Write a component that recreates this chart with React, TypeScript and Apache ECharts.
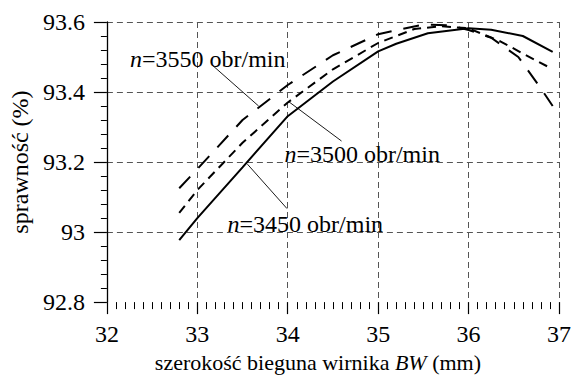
import React, { useEffect, useRef } from "react";
import * as echarts from "echarts";

// ---- data ----
const xTickMin = 32;
const xTickMax = 37;
const yTickMin = 92.8;
const yTickMax = 93.6;

const x3450 = [32.8, 33.0, 33.5, 34.0, 34.5, 35.0, 35.2, 35.55, 36.0, 36.25, 36.6, 36.93];
const y3450 = [92.977, 93.04, 93.185, 93.331, 93.43, 93.516, 93.538, 93.568, 93.582, 93.578, 93.56, 93.515];

const x3500 = [32.8, 33.0, 33.5, 34.0, 34.5, 35.0, 35.4, 35.7, 36.0, 36.35, 36.6, 36.88];
const y3500 = [93.055, 93.12, 93.255, 93.37, 93.465, 93.54, 93.58, 93.588, 93.582, 93.545, 93.51, 93.472];

const x3550 = [32.8, 33.0, 33.5, 34.0, 34.5, 35.0, 35.5, 35.8, 36.0, 36.25, 36.55, 36.8, 36.93];
const y3550 = [93.125, 93.18, 93.32, 93.42, 93.505, 93.565, 93.593, 93.59, 93.577, 93.555, 93.5, 93.41, 93.36];

const speeds = ["3550", "3500", "3450"];
// annotation anchors in data coordinates: [textX, textY, lineX1, lineY1, lineX2, lineY2]
const annotationAnchors = [
  [32.255, 93.494, 33.173, 93.475, 33.678, 93.36],
  [33.963, 93.224, 34.003, 93.374, 34.595, 93.26],
  [33.334, 93.024, 33.554, 93.194, 33.992, 93.067],
];

const xName = "szerokość bieguna wirnika {i|BW} (mm)";
const yName = "sprawność (%)";

const FONT = "Liberation Serif";

const zip = (xs: number[], ys: number[]) => xs.map((x, i) => [x, ys[i]]);

export default function App() {
  const ref = useRef<HTMLDivElement>(null);
  useEffect(() => {
    const chart = echarts.init(ref.current!, null, { renderer: "svg" });
    const gridLine = { show: true, showMinLine: false, lineStyle: { color: "#555", type: [6, 4], width: 1 } };
    const option: any = {
      animation: false,
      backgroundColor: "#fff",
      textStyle: { fontFamily: FONT, color: "#000" },
      grid: { left: 105, right: 13, top: 22, bottom: 74, containLabel: false },
      xAxis: {
        type: "value",
        min: xTickMin,
        max: xTickMax,
        interval: 1,
        name: xName,
        nameLocation: "middle",
        nameGap: 47,
        nameTextStyle: {
          fontFamily: FONT,
          fontSize: 22,
          color: "#000",
          padding: [0, 30, 0, 0],
          rich: { i: { fontStyle: "italic", fontFamily: FONT, fontSize: 22, color: "#000" } },
        },
        axisLine: { show: false },
        axisTick: { show: true, inside: false, length: 12, lineStyle: { color: "#000", width: 1.2 } },
        minorTick: { show: true, splitNumber: 10, length: 7, lineStyle: { color: "#000", width: 1 } },
        axisLabel: { fontFamily: FONT, fontSize: 24, color: "#000", margin: 20 },
        splitLine: gridLine,
      },
      yAxis: {
        type: "value",
        min: yTickMin,
        max: yTickMax,
        interval: 0.2,
        name: yName,
        nameLocation: "middle",
        nameGap: 72,
        nameTextStyle: { fontFamily: FONT, fontSize: 24, color: "#000" },
        axisLine: { show: true, lineStyle: { color: "#000", width: 1.3 } },
        axisTick: { show: true, inside: false, length: 13, lineStyle: { color: "#000", width: 1.2 } },
        minorTick: { show: true, splitNumber: 5, length: 6, lineStyle: { color: "#000", width: 1 } },
        axisLabel: { fontFamily: FONT, fontSize: 24, color: "#000", margin: 22 },
        splitLine: gridLine,
      },
      series: [
        {
          name: "n=3450",
          type: "line",
          data: zip(x3450, y3450),
          showSymbol: false,
          color: "#000",
          lineStyle: { color: "#000", width: 2, type: "solid" },
        },
        {
          name: "n=3500",
          type: "line",
          data: zip(x3500, y3500),
          showSymbol: false,
          color: "#000",
          lineStyle: { color: "#000", width: 2, type: [9, 6] },
        },
        {
          name: "n=3550",
          type: "line",
          data: zip(x3550, y3550),
          showSymbol: false,
          color: "#000",
          lineStyle: { color: "#000", width: 2, type: [16, 12] },
        },
      ],
    };
    chart.setOption(option);

    const graphics: any[] = [];
    annotationAnchors.forEach((a, i) => {
      const t = chart.convertToPixel({ gridIndex: 0 }, [a[0], a[1]]) as number[];
      const p1 = chart.convertToPixel({ gridIndex: 0 }, [a[2], a[3]]) as number[];
      const p2 = chart.convertToPixel({ gridIndex: 0 }, [a[4], a[5]]) as number[];
      graphics.push({
        type: "line",
        shape: { x1: p1[0], y1: p1[1], x2: p2[0], y2: p2[1] },
        style: { stroke: "#000", lineWidth: 0.9 },
        z: 10,
      });
      graphics.push({
        type: "text",
        x: t[0],
        y: t[1],
        z: 11,
        style: {
          text: "{i|n}=" + speeds[i] + " obr/min",
          fontFamily: FONT,
          fontSize: 24,
          fill: "#000",
          align: "left",
          verticalAlign: "middle",
          rich: { i: { fontStyle: "italic", fontFamily: FONT, fontSize: 24, fill: "#000" } },
        },
      });
    });
    chart.setOption({ graphic: graphics });

    return () => chart.dispose();
  }, []);
  return <div ref={ref} style={{ position: "absolute", left: 0, top: 0, width: 574, height: 378 }} />;
}
